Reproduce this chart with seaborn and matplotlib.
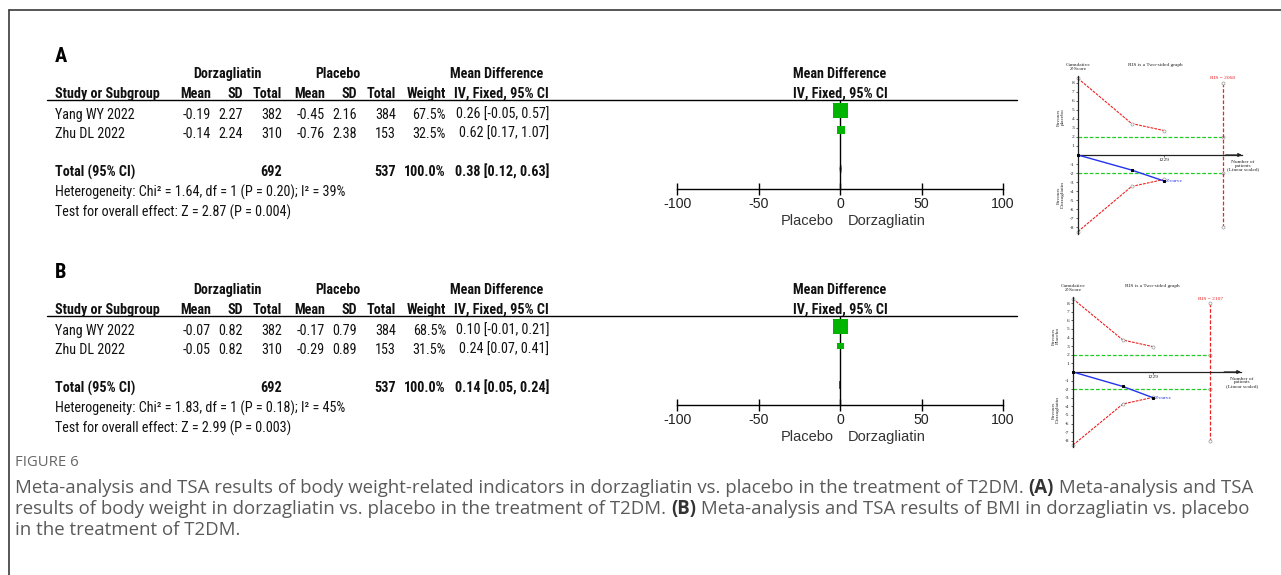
import numpy as np
import pandas as pd
import matplotlib
matplotlib.use("Agg")
import matplotlib.pyplot as plt
import seaborn as sns
from matplotlib import font_manager
from matplotlib.lines import Line2D

# ---------------------------------------------------------------- data
studies = ["Yang WY 2022", "Zhu DL 2022"]

# (A) body weight
a_dorza_mean = [-0.19, -0.14]
a_dorza_sd = [2.27, 2.24]
a_dorza_n = [382, 310]
a_plac_mean = [-0.45, -0.76]
a_plac_sd = [2.16, 2.38]
a_plac_n = [384, 153]
a_weight = [67.5, 32.5]
a_md = [0.26, 0.62]
a_lo = [-0.05, 0.17]
a_hi = [0.57, 1.07]
a_total = [0.38, 0.12, 0.63]
a_het = "Heterogeneity: Chi\u00b2 = 1.64, df = 1 (P = 0.20); I\u00b2 = 39%"
a_test = "Test for overall effect: Z = 2.87 (P = 0.004)"

# (B) BMI
b_dorza_mean = [-0.07, -0.05]
b_dorza_sd = [0.82, 0.82]
b_dorza_n = [382, 310]
b_plac_mean = [-0.17, -0.29]
b_plac_sd = [0.79, 0.89]
b_plac_n = [384, 153]
b_weight = [68.5, 31.5]
b_md = [0.10, 0.24]
b_lo = [-0.01, 0.07]
b_hi = [0.21, 0.41]
b_total = [0.14, 0.05, 0.24]
b_het = "Heterogeneity: Chi\u00b2 = 1.83, df = 1 (P = 0.18); I\u00b2 = 45%"
b_test = "Test for overall effect: Z = 2.99 (P = 0.003)"

forest_ticks = [-100, -50, 0, 50, 100]

# trial sequential analysis
a_tsa_patients = [0, 766, 1229]
a_tsa_upper = [8.45, 3.47, 2.7]
a_tsa_lower = [-8.45, -3.47, -2.7]
a_tsa_z = [0, -1.66, -2.87]
a_ris = 2068

b_tsa_patients = [0, 766, 1229]
b_tsa_upper = [8.5, 3.72, 2.95]
b_tsa_lower = [-8.5, -3.72, -2.95]
b_tsa_z = [0, -1.68, -2.99]
b_ris = 2107

z_limit = 1.96
z_ticks = [-8, -7, -6, -5, -4, -3, -2, -1, 1, 2, 3, 4, 5, 6, 7, 8]

# ---------------------------------------------------------------- style
sns.set_theme(style="white")
_weights = {}
for _f in font_manager.fontManager.ttflist:
    if _f.style == "normal":
        _weights.setdefault(_f.name, set()).add(int(_f.weight))


def pick(cands):
    """First family that ships both a regular and a bold face."""
    for c in cands:
        w = _weights.get(c, set())
        if 400 in w and 700 in w:
            return c
    return cands[-1]


TAB_FAM = pick(["Liberation Sans Narrow", "Arial Narrow", "Archivo Narrow",
                "Roboto Condensed", "IBM Plex Sans Condensed",
                "PT Sans Narrow", "Fira Sans Condensed",
                "Encode Sans Condensed", "Pragati Narrow", "Liberation Sans"])
CAP_FAM = pick(["Open Sans", "Lato", "DejaVu Sans"])
SANS = "Liberation Sans"
SERIF = "Liberation Serif"
plt.rcParams["font.family"] = [SANS, "DejaVu Sans"]

W, H, DPI = 1281, 575, 100
fig = plt.figure(figsize=(W / DPI, H / DPI), dpi=DPI)
fig.patch.set_facecolor("white")
renderer = fig.canvas.get_renderer()


def text_width(s, family, size=10, weight="normal"):
    t = fig.text(0, 0, s, fontsize=size, family=family, fontweight=weight)
    w = t.get_window_extent(renderer=renderer).width
    t.remove()
    return w


# table font sized so a study label spans its printed width
TAB_SIZE = 10 * 80 / text_width("Yang WY 2022", TAB_FAM)
CAP_SIZE = 10 * 1238 / text_width(
    "Meta-analysis and TSA results of body weight-related indicators in "
    "dorzagliatin vs. placebo in the treatment of T2DM. (A) Meta-analysis "
    "and TSA", CAP_FAM)


def fx(x):
    return x / W


def fy(y):
    return 1 - y / H


def put(x, y, s, ha="left", size=None, weight="normal", color="#111111",
        family=None, va="center", **kw):
    return fig.text(fx(x), fy(y), s, ha=ha, va=va,
                    fontsize=TAB_SIZE if size is None else size,
                    fontweight=weight, color=color,
                    family=TAB_FAM if family is None else family, **kw)


def axes_px(x0, y0, x1, y1):
    ax = fig.add_axes([x0 / W, 1 - y1 / H, (x1 - x0) / W, (y1 - y0) / H])
    ax.set_facecolor("none")
    return ax


# outer frame of the figure box
fig.add_artist(Line2D([fx(9), 1.0], [fy(10), fy(10)], color="#3a3a3a",
                      lw=1.2, transform=fig.transFigure))
fig.add_artist(Line2D([fx(9), fx(9)], [fy(10), 0.0], color="#3a3a3a",
                      lw=1.2, transform=fig.transFigure))

# ---------------------------------------------------------------- forest plots
COLS = {"mean1": 211, "sd1": 243, "n1": 282, "mean2": 325, "sd2": 357,
        "n2": 396, "w": 446, "ci": 549}


def fmt2(v):
    return f"{v:.2f}"


def forest_panel(dy, letter, d_mean, d_sd, d_n, p_mean, p_sd, p_n, weight,
                 md, lo, hi, total, het, test):
    put(55, 57 + dy, letter, size=TAB_SIZE * 1.45, weight="bold",
        color="black")
    # group headers
    put(227, 74 + dy, "Dorzagliatin", ha="center", weight="bold")
    put(338, 74 + dy, "Placebo", ha="center", weight="bold")
    put(497, 74 + dy, "Mean Difference", ha="center", weight="bold")
    put(840, 74 + dy, "Mean Difference", ha="center", weight="bold")
    # column headers
    put(55, 94 + dy, "Study or Subgroup", weight="bold")
    for key, lab in [("mean1", "Mean"), ("sd1", "SD"), ("n1", "Total"),
                     ("mean2", "Mean"), ("sd2", "SD"), ("n2", "Total"),
                     ("w", "Weight"), ("ci", "IV, Fixed, 95% CI")]:
        put(COLS[key], 94 + dy, lab, ha="right", weight="bold")
    put(840, 94 + dy, "IV, Fixed, 95% CI", ha="center", weight="bold")
    fig.add_artist(Line2D([fx(47), fx(1017)], [fy(100 + dy), fy(100 + dy)],
                          color="black", lw=1.0, transform=fig.transFigure))
    # study rows
    row_y = [115, 134]
    for i, name in enumerate(studies):
        y = row_y[i] + dy
        put(55, y, name)
        put(COLS["mean1"], y, fmt2(d_mean[i]), ha="right")
        put(COLS["sd1"], y, fmt2(d_sd[i]), ha="right")
        put(COLS["n1"], y, str(d_n[i]), ha="right")
        put(COLS["mean2"], y, fmt2(p_mean[i]), ha="right")
        put(COLS["sd2"], y, fmt2(p_sd[i]), ha="right")
        put(COLS["n2"], y, str(p_n[i]), ha="right")
        put(COLS["w"], y, f"{weight[i]:.1f}%", ha="right")
        put(COLS["ci"], y, f"{fmt2(md[i])} [{fmt2(lo[i])}, {fmt2(hi[i])}]",
            ha="right")
    # totals
    y = 172 + dy
    put(55, y, "Total (95% CI)", weight="bold")
    put(COLS["n1"], y, str(sum(d_n)), ha="right", weight="bold")
    put(COLS["n2"], y, str(sum(p_n)), ha="right", weight="bold")
    put(COLS["w"], y, f"{sum(weight):.1f}%", ha="right", weight="bold")
    put(COLS["ci"], y,
        f"{fmt2(total[0])} [{fmt2(total[1])}, {fmt2(total[2])}]",
        ha="right", weight="bold")
    put(55, 192 + dy, het)
    put(55, 212 + dy, test)

    # graphical part: rows 0,1 = studies, row 3 = total
    ax = axes_px(677, 100 + dy, 1003, 189 + dy)
    ax.set_xlim(-100, 100)
    ax.set_ylim(4.03, -0.54)
    rows = [0, 1]
    ax.axvline(0, color="black", lw=1.0, zorder=1)
    ax.hlines(rows, lo, hi, color="black", lw=1.0, zorder=2)
    side_pt = [22 * w / 100 * 72 / DPI for w in weight]
    df = pd.DataFrame({"md": md, "row": rows})
    sns.scatterplot(data=df, x="md", y="row", ax=ax, marker="s",
                    s=[sp ** 2 for sp in side_pt], color="#00b400",
                    linewidth=0, zorder=3, legend=False)
    t_md, t_lo, t_hi = total
    ax.fill([t_lo, t_md, t_hi, t_md], [3, 2.8, 3, 3.2], color="black", lw=0.8,
            zorder=3)
    for s in ["top", "right", "left"]:
        ax.spines[s].set_visible(False)
    ax.spines["bottom"].set_color("black")
    ax.spines["bottom"].set_linewidth(1.0)
    ax.set_xticks(forest_ticks)
    ax.set_xticklabels([str(t) for t in forest_ticks])
    ax.set_yticks([])
    ax.tick_params(axis="x", direction="inout", length=9, width=1.0,
                   colors="black", labelsize=10.2, labelcolor="#222222",
                   pad=1, bottom=True)
    for lab in ax.get_xticklabels():
        lab.set_family(SANS)
    ax.set_xlabel("")
    ax.set_ylabel("")
    put(807, 221 + dy, "Placebo", ha="center", size=10.5, family=SANS,
        color="#333333")
    put(887, 221 + dy, "Dorzagliatin", ha="center", size=10.5, family=SANS,
        color="#333333")


forest_panel(0, "A", a_dorza_mean, a_dorza_sd, a_dorza_n, a_plac_mean,
             a_plac_sd, a_plac_n, a_weight, a_md, a_lo, a_hi, a_total,
             a_het, a_test)
forest_panel(216, "B", b_dorza_mean, b_dorza_sd, b_dorza_n, b_plac_mean,
             b_plac_sd, b_plac_n, b_weight, b_md, b_lo, b_hi, b_total,
             b_het, b_test)

# ---------------------------------------------------------------- TSA graphs
TSA_FS = 3.9


def tsa_panel(x0, ppp, x_end, y0, ppz, patients, upper, lower, zcurve, ris,
              fav_top):
    zmax = 9.3
    ax = axes_px(x0, y0 - zmax * ppz, x_end, y0 + zmax * ppz)
    xmax = (x_end - x0) / ppp
    ax.set_xlim(0, xmax)
    ax.set_ylim(-zmax, zmax)
    ax.grid(False)

    red = "#ee2222"
    bnd = pd.DataFrame({"patients": patients, "upper": upper, "lower": lower,
                        "z": zcurve})
    for col in ["upper", "lower"]:
        sns.lineplot(data=bnd, x="patients", y=col, ax=ax, color=red, lw=0.8,
                     linestyle=(0, (2.5, 1)), marker="o", markersize=2.2,
                     markerfacecolor="white", markeredgecolor="#999999",
                     markeredgewidth=0.5, estimator=None, sort=False,
                     clip_on=False)
    # conventional significance limits
    lim = pd.DataFrame({"patients": [0, ris, 0, ris],
                        "z": [z_limit, z_limit, -z_limit, -z_limit],
                        "side": ["up", "up", "down", "down"]})
    for side in ["up", "down"]:
        sub = lim[lim["side"] == side]
        sns.lineplot(data=sub, x="patients", y="z", ax=ax, color="#22cc22",
                     lw=0.9, linestyle=(0, (3, 1.5)), estimator=None,
                     sort=False)
        ax.plot([ris], [sub["z"].iloc[0]], marker="o", ms=2.2, mfc="white",
                mec="#999999", mew=0.5)
    # required information size
    ris_df = pd.DataFrame({"patients": [ris, ris], "z": [8, -8]})
    sns.lineplot(data=ris_df, x="patients", y="z", ax=ax, color=red, lw=0.9,
                 linestyle=(0, (3, 1.5)), marker="o", markersize=2.2,
                 markerfacecolor="white", markeredgecolor="#999999",
                 markeredgewidth=0.5, estimator=None, sort=False)
    # cumulative z-curve
    sns.lineplot(data=bnd, x="patients", y="z", ax=ax, color="#2233ee", lw=1.0,
                 marker="s", markersize=1.8, markerfacecolor="black",
                 markeredgecolor="black", estimator=None, sort=False,
                 clip_on=False, zorder=4)

    for s in ["top", "right"]:
        ax.spines[s].set_visible(False)
    ax.spines["left"].set_position(("data", 0))
    ax.spines["left"].set_bounds(-8.7, 8.7)
    ax.spines["bottom"].set_position(("data", 0))
    for s in ["left", "bottom"]:
        ax.spines[s].set_color("#222222")
        ax.spines[s].set_linewidth(0.9)
    ax.annotate("", xy=(xmax, 0), xytext=(xmax * 0.9, 0),
                arrowprops=dict(arrowstyle="-|>", color="#222222", lw=0.9,
                                mutation_scale=5, shrinkA=0, shrinkB=0))
    ax.set_yticks(z_ticks)
    ax.set_yticklabels([str(t) for t in z_ticks])
    ax.set_xticks([patients[-1]])
    ax.set_xticklabels([str(patients[-1])])
    ax.tick_params(axis="y", direction="out", length=1.5, width=0.5,
                   labelsize=TSA_FS, pad=1, left=True, colors="#222222")
    ax.tick_params(axis="x", direction="out", length=1.5, width=0.5,
                   labelsize=TSA_FS, pad=1, bottom=True, colors="#222222")
    for lab in ax.get_yticklabels() + ax.get_xticklabels():
        lab.set_family(SERIF)
    ax.set_xlabel("")
    ax.set_ylabel("")

    def px_x(v):
        return x0 + v * ppp

    def px_y(z):
        return y0 - z * ppz

    kw = dict(size=TSA_FS, family=SERIF, color="#222222")
    put(px_x(0), y0 - 9.3 * ppz - 4, "Cumulative\nZ-Score", ha="center",
        linespacing=0.9, **kw)
    put(px_x(xmax * 0.47), y0 - 9.3 * ppz - 6, "RIS is a Two-sided graph",
        ha="center", **kw)
    put(px_x(ris), px_y(8.5), f"RIS = {ris}", ha="center", size=TSA_FS,
        family=SERIF, color=red)
    put(px_x(xmax) + 1, px_y(-1.2), "Number of\npatients\n(Linear scaled)",
        ha="center", linespacing=0.9, **kw)
    put(px_x(patients[-1]) + 2, px_y(zcurve[-1]), "Z-curve", size=TSA_FS,
        family=SERIF, color="#2233ee")
    put(px_x(0) - 17, px_y(4.2), fav_top, ha="center", rotation=90,
        linespacing=0.9, **kw)
    put(px_x(0) - 17, px_y(-4.4), "Favours\nDorzagliatin", ha="center",
        rotation=90, linespacing=0.9, **kw)


tsa_panel(1078, 0.070, 1242, 155, 9.06, a_tsa_patients, a_tsa_upper,
          a_tsa_lower, a_tsa_z, a_ris, "Favours\nplacebo")
tsa_panel(1073, 0.0651, 1241, 372, 8.6, b_tsa_patients, b_tsa_upper,
          b_tsa_lower, b_tsa_z, b_ris, "Favours\nPlacebo")

# ---------------------------------------------------------------- caption
put(15, 462, "FIGURE 6", size=CAP_SIZE * 0.8, family=CAP_FAM,
    color="#666666")

cap_lines = [
    [("Meta-analysis and TSA results of body weight-related indicators in "
      "dorzagliatin vs. placebo in the treatment of T2DM. ", "normal"),
     ("(A)", "bold"), (" Meta-analysis and TSA", "normal")],
    [("results of body weight in dorzagliatin vs. placebo in the treatment "
      "of T2DM. ", "normal"), ("(B)", "bold"),
     (" Meta-analysis and TSA results of BMI in dorzagliatin vs. placebo",
      "normal")],
    [("in the treatment of T2DM.", "normal")],
]
cap_y = [488, 509, 530]
for line, y in zip(cap_lines, cap_y):
    x = 15
    for s, wgt in line:
        t = put(x, y, s, size=CAP_SIZE, family=CAP_FAM, weight=wgt,
                color="#333333" if wgt == "bold" else "#5a5a5a")
        bb = t.get_window_extent(renderer=renderer)
        x = bb.x1

fig.savefig("out.png", dpi=DPI, facecolor="white")
